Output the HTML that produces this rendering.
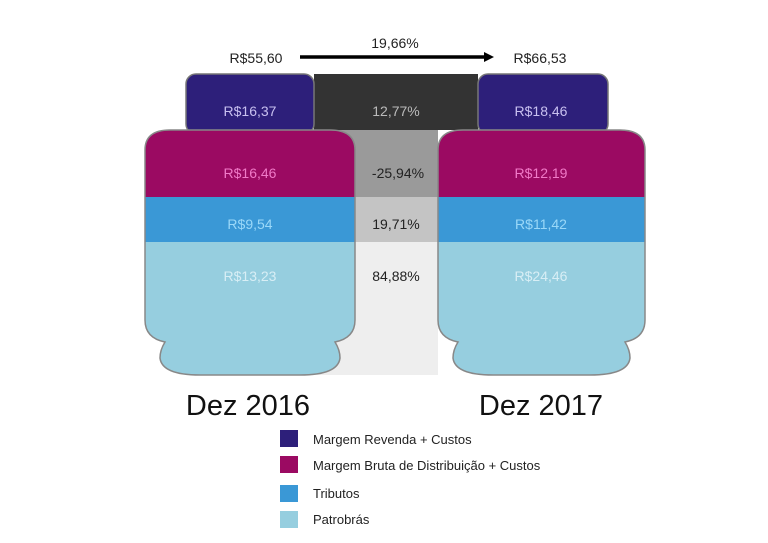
<!DOCTYPE html><html><head><style>
body{margin:0;width:768px;height:538px;background:#fff;overflow:hidden;font-family:"Liberation Sans",sans-serif}
svg text{font-family:"Liberation Sans",sans-serif}
</style></head><body>
<svg width="768" height="538" viewBox="0 0 768 538">
<defs>
<path id="pl" d="M145 150 Q145 130 170 130 L330 130 Q355 130 355 150 L355 320 Q355 338 335 342 Q340 350 340 358 Q338 375 300 375 L200 375 Q162 375 160 358 Q160 350 165 342 Q145 338 145 320 Z"/>
<path id="pr" d="M438 150 Q438 130 463 130 L620 130 Q645 130 645 150 L645 320 Q645 338 625 342 Q630 350 630 358 Q628 375 590 375 L493 375 Q455 375 453 358 Q453 350 458 342 Q438 338 438 320 Z"/>
<clipPath id="cl"><use href="#pl"/></clipPath>
<clipPath id="cr"><use href="#pr"/></clipPath>
</defs>
<rect x="314" y="74" width="164" height="56" fill="#333"/>
<rect x="314" y="130" width="124" height="67" fill="#9a9a9a"/>
<rect x="314" y="197" width="124" height="45" fill="#c4c4c4"/>
<rect x="314" y="242" width="124" height="133" fill="#eeeeee"/>
<rect x="186" y="74" width="128" height="60" rx="10" fill="#2d1f7a" stroke="#777" stroke-width="1.5"/>
<rect x="478" y="74" width="130" height="60" rx="10" fill="#2d1f7a" stroke="#777" stroke-width="1.5"/>
<g clip-path="url(#cl)">
<rect x="140" y="125" width="220" height="72" fill="#9b0a62"/>
<rect x="140" y="197" width="220" height="45" fill="#3a98d6"/>
<rect x="140" y="242" width="220" height="140" fill="#96cedf"/>
</g>
<g clip-path="url(#cr)">
<rect x="430" y="125" width="220" height="72" fill="#9b0a62"/>
<rect x="430" y="197" width="220" height="45" fill="#3a98d6"/>
<rect x="430" y="242" width="220" height="140" fill="#96cedf"/>
</g>
<use href="#pl" fill="none" stroke="#888" stroke-width="1.5"/>
<use href="#pr" fill="none" stroke="#888" stroke-width="1.5"/>
<g font-size="14" text-anchor="middle">
<text x="395" y="48" fill="#222">19,66%</text>
<text x="256" y="63" fill="#222">R$55,60</text>
<text x="540" y="63" fill="#222">R$66,53</text>
<text x="250" y="116" fill="#c8c0f0">R$16,37</text>
<text x="396" y="116" fill="#bbb">12,77%</text>
<text x="541" y="116" fill="#c8c0f0">R$18,46</text>
<text x="250" y="178" fill="#f07ac8">R$16,46</text>
<text x="398" y="178" fill="#222">-25,94%</text>
<text x="541" y="178" fill="#f07ac8">R$12,19</text>
<text x="250" y="229" fill="#9ad8f8">R$9,54</text>
<text x="396" y="229" fill="#222">19,71%</text>
<text x="541" y="229" fill="#9ad8f8">R$11,42</text>
<text x="250" y="281" fill="#d8eef5">R$13,23</text>
<text x="396" y="281" fill="#222">84,88%</text>
<text x="541" y="281" fill="#d8eef5">R$24,46</text>
</g>
<line x1="300" y1="57" x2="484" y2="57" stroke="#000" stroke-width="3.5"/>
<polygon points="484,52 494,57 484,62" fill="#000"/>
<text x="248" y="415" font-size="29" text-anchor="middle" fill="#111">Dez 2016</text>
<text x="541" y="415" font-size="29" text-anchor="middle" fill="#111">Dez 2017</text>
<rect x="280" y="430" width="18" height="17" fill="#2d1f7a"/>
<rect x="280" y="456" width="18" height="17" fill="#9b0a62"/>
<rect x="280" y="485" width="18" height="17" fill="#3a98d6"/>
<rect x="280" y="511" width="18" height="17" fill="#96cedf"/>
<g font-size="13" fill="#222">
<text x="313" y="444">Margem Revenda + Custos</text>
<text x="313" y="470">Margem Bruta de Distribuição + Custos</text>
<text x="313" y="498">Tributos</text>
<text x="313" y="524">Patrobrás</text>
</g>
</svg>
</body></html>
